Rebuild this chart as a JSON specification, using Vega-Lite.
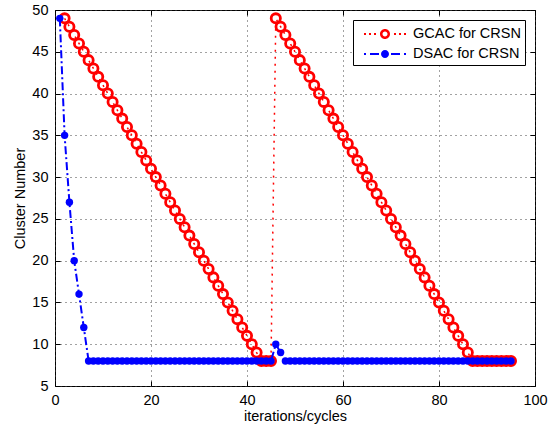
{
  "$schema": "https://vega.github.io/schema/vega-lite/v6.json",
  "autosize": {"type": "none"},
  "padding": {"left": 55, "top": 10, "right": 18, "bottom": 40},
  "width": 480,
  "height": 376,
  "background": "white",
  "config": {
    "font": "Liberation Sans",
    "view": {"stroke": "#000", "strokeWidth": 1},
    "axis": {
      "domain": false,
      "labelFont": "Liberation Sans",
      "titleFont": "Liberation Sans",
      "labelFontSize": 14.5,
      "titleFontSize": 14.5,
      "titleFontWeight": "normal",
      "labelColor": "#000",
      "titleColor": "#000",
      "labelFlush": false,
      "labelOverlap": false,
      "labelBound": false,
      "tickColor": "#000",
      "tickSize": -5,
      "tickWidth": 1,
      "gridColor": "#444",
      "gridDash": [1, 4],
      "gridWidth": 1
    }
  },
  "datasets": {
    "gcac": [
      {"x": 2, "y": 49}, {"x": 3, "y": 48}, {"x": 4, "y": 47}, {"x": 5, "y": 46}, {"x": 6, "y": 45},
      {"x": 7, "y": 44}, {"x": 8, "y": 43}, {"x": 9, "y": 42}, {"x": 10, "y": 41}, {"x": 11, "y": 40},
      {"x": 12, "y": 39}, {"x": 13, "y": 38}, {"x": 14, "y": 37}, {"x": 15, "y": 36}, {"x": 16, "y": 35},
      {"x": 17, "y": 34}, {"x": 18, "y": 33}, {"x": 19, "y": 32}, {"x": 20, "y": 31}, {"x": 21, "y": 30},
      {"x": 22, "y": 29}, {"x": 23, "y": 28}, {"x": 24, "y": 27}, {"x": 25, "y": 26}, {"x": 26, "y": 25},
      {"x": 27, "y": 24}, {"x": 28, "y": 23}, {"x": 29, "y": 22}, {"x": 30, "y": 21}, {"x": 31, "y": 20},
      {"x": 32, "y": 19}, {"x": 33, "y": 18}, {"x": 34, "y": 17}, {"x": 35, "y": 16}, {"x": 36, "y": 15},
      {"x": 37, "y": 14}, {"x": 38, "y": 13}, {"x": 39, "y": 12}, {"x": 40, "y": 11}, {"x": 41, "y": 10},
      {"x": 42, "y": 9}, {"x": 43, "y": 8}, {"x": 44, "y": 8}, {"x": 45, "y": 8},
      {"x": 46, "y": 49}, {"x": 47, "y": 48}, {"x": 48, "y": 47}, {"x": 49, "y": 46}, {"x": 50, "y": 45},
      {"x": 51, "y": 44}, {"x": 52, "y": 43}, {"x": 53, "y": 42}, {"x": 54, "y": 41}, {"x": 55, "y": 40},
      {"x": 56, "y": 39}, {"x": 57, "y": 38}, {"x": 58, "y": 37}, {"x": 59, "y": 36}, {"x": 60, "y": 35},
      {"x": 61, "y": 34}, {"x": 62, "y": 33}, {"x": 63, "y": 32}, {"x": 64, "y": 31}, {"x": 65, "y": 30},
      {"x": 66, "y": 29}, {"x": 67, "y": 28}, {"x": 68, "y": 27}, {"x": 69, "y": 26}, {"x": 70, "y": 25},
      {"x": 71, "y": 24}, {"x": 72, "y": 23}, {"x": 73, "y": 22}, {"x": 74, "y": 21}, {"x": 75, "y": 20},
      {"x": 76, "y": 19}, {"x": 77, "y": 18}, {"x": 78, "y": 17}, {"x": 79, "y": 16}, {"x": 80, "y": 15},
      {"x": 81, "y": 14}, {"x": 82, "y": 13}, {"x": 83, "y": 12}, {"x": 84, "y": 11}, {"x": 85, "y": 10},
      {"x": 86, "y": 9}, {"x": 87, "y": 8}, {"x": 88, "y": 8}, {"x": 89, "y": 8}, {"x": 90, "y": 8},
      {"x": 91, "y": 8}, {"x": 92, "y": 8}, {"x": 93, "y": 8}, {"x": 94, "y": 8}, {"x": 95, "y": 8}
    ],
    "dsac": [
      {"x": 1, "y": 49}, {"x": 2, "y": 35}, {"x": 3, "y": 27}, {"x": 4, "y": 20}, {"x": 5, "y": 16},
      {"x": 6, "y": 12}, {"x": 7, "y": 8}, {"x": 8, "y": 8}, {"x": 9, "y": 8}, {"x": 10, "y": 8},
      {"x": 11, "y": 8}, {"x": 12, "y": 8}, {"x": 13, "y": 8}, {"x": 14, "y": 8}, {"x": 15, "y": 8},
      {"x": 16, "y": 8}, {"x": 17, "y": 8}, {"x": 18, "y": 8}, {"x": 19, "y": 8}, {"x": 20, "y": 8},
      {"x": 21, "y": 8}, {"x": 22, "y": 8}, {"x": 23, "y": 8}, {"x": 24, "y": 8}, {"x": 25, "y": 8},
      {"x": 26, "y": 8}, {"x": 27, "y": 8}, {"x": 28, "y": 8}, {"x": 29, "y": 8}, {"x": 30, "y": 8},
      {"x": 31, "y": 8}, {"x": 32, "y": 8}, {"x": 33, "y": 8}, {"x": 34, "y": 8}, {"x": 35, "y": 8},
      {"x": 36, "y": 8}, {"x": 37, "y": 8}, {"x": 38, "y": 8}, {"x": 39, "y": 8}, {"x": 40, "y": 8},
      {"x": 41, "y": 8}, {"x": 42, "y": 8}, {"x": 43, "y": 8}, {"x": 44, "y": 8}, {"x": 45, "y": 8},
      {"x": 46, "y": 10}, {"x": 47, "y": 9}, {"x": 48, "y": 8}, {"x": 49, "y": 8}, {"x": 50, "y": 8},
      {"x": 51, "y": 8}, {"x": 52, "y": 8}, {"x": 53, "y": 8}, {"x": 54, "y": 8}, {"x": 55, "y": 8},
      {"x": 56, "y": 8}, {"x": 57, "y": 8}, {"x": 58, "y": 8}, {"x": 59, "y": 8}, {"x": 60, "y": 8},
      {"x": 61, "y": 8}, {"x": 62, "y": 8}, {"x": 63, "y": 8}, {"x": 64, "y": 8}, {"x": 65, "y": 8},
      {"x": 66, "y": 8}, {"x": 67, "y": 8}, {"x": 68, "y": 8}, {"x": 69, "y": 8}, {"x": 70, "y": 8},
      {"x": 71, "y": 8}, {"x": 72, "y": 8}, {"x": 73, "y": 8}, {"x": 74, "y": 8}, {"x": 75, "y": 8},
      {"x": 76, "y": 8}, {"x": 77, "y": 8}, {"x": 78, "y": 8}, {"x": 79, "y": 8}, {"x": 80, "y": 8},
      {"x": 81, "y": 8}, {"x": 82, "y": 8}, {"x": 83, "y": 8}, {"x": 84, "y": 8}, {"x": 85, "y": 8},
      {"x": 86, "y": 8}, {"x": 87, "y": 8}, {"x": 88, "y": 8}, {"x": 89, "y": 8}, {"x": 90, "y": 8},
      {"x": 91, "y": 8}, {"x": 92, "y": 8}, {"x": 93, "y": 8}, {"x": 94, "y": 8}, {"x": 95, "y": 8}
    ]
  },
  "resolve": {"axis": {"x": "independent", "y": "independent"}},
  "layer": [
    {
      "data": {"name": "gcac"},
      "mark": {"type": "line", "strokeDash": [2, 5], "strokeWidth": 1.5},
      "encoding": {
        "x": {"field": "x", "type": "quantitative", "scale": {"domain": [0, 100], "nice": false, "zero": false},
          "axis": {"orient": "bottom", "values": [0, 20, 40, 60, 80, 100], "title": "iterations/cycles", "labelPadding": 12, "titlePadding": 3, "grid": true}},
        "y": {"field": "y", "type": "quantitative", "scale": {"domain": [5, 50], "nice": false, "zero": false},
          "axis": {"orient": "left", "values": [5, 10, 15, 20, 25, 30, 35, 40, 45, 50], "title": "Cluster Number", "labelPadding": 12, "titlePadding": 4, "grid": true}},
        "color": {"datum": "GCAC for CRSN", "type": "nominal",
          "scale": {"domain": ["GCAC for CRSN", "DSAC for CRSN"], "range": ["#ff0000", "#0000ff"]},
          "legend": {
            "title": null,
            "orient": "none",
            "legendX": 298,
            "legendY": 10,
            "padding": 4,
            "rowPadding": 3,
            "strokeColor": "#000",
            "fillColor": "#fff",
            "symbolSize": 400,
            "labelOffset": 36,
            "labelFont": "Liberation Sans",
            "labelFontSize": 14.5,
            "labelColor": "#000",
            "encode": {
              "symbols": {
                "update": {
                  "size": {"value": 400},
                  "shape": {"signal": "datum.value === 'GCAC for CRSN' ? 'M-0.3,-0.1h0.2v0.2h-0.2ZM0.2,-0.1h0.2v0.2h-0.2ZM0.7,-0.1h0.2v0.2h-0.2ZM2.7,-0.1h0.2v0.2h-0.2ZM3.2,-0.1h0.2v0.2h-0.2ZM3.7,-0.1h0.2v0.2h-0.2ZM1.3,0A0.5,0.5,0,1,1,2.3,0A0.5,0.5,0,1,1,1.3,0ZM1.55,0A0.25,0.25,0,1,0,2.05,0A0.25,0.25,0,1,0,1.55,0Z' : 'M-0.3,-0.1h0.2v0.2h-0.2ZM0.3,-0.1H1.2V0.1H0.3ZM2.4,-0.1H3.3V0.1H2.4ZM3.7,-0.1h0.2v0.2h-0.2ZM1.4,0A0.4,0.4,0,1,1,2.2,0A0.4,0.4,0,1,1,1.4,0Z'"},
                  "strokeWidth": {"value": 0},
                  "strokeDash": {"value": []},
                  "opacity": {"value": 1}
                }
              }
            }
          }}
      }
    },
    {
      "data": {"name": "gcac"},
      "mark": {"type": "point", "filled": false, "size": 85, "strokeWidth": 2.8, "opacity": 1},
      "encoding": {
        "x": {"field": "x", "type": "quantitative", "scale": {"domain": [0, 100], "nice": false, "zero": false},
          "axis": {"orient": "top", "values": [0, 20, 40, 60, 80, 100], "labels": false, "title": null, "grid": false}},
        "y": {"field": "y", "type": "quantitative", "scale": {"domain": [5, 50], "nice": false, "zero": false},
          "axis": {"orient": "right", "values": [5, 10, 15, 20, 25, 30, 35, 40, 45, 50], "labels": false, "title": null, "grid": false}},
        "color": {"datum": "GCAC for CRSN", "type": "nominal"}
      }
    },
    {
      "data": {"name": "dsac"},
      "mark": {"type": "line", "strokeDash": [8, 3, 2, 3], "strokeWidth": 2},
      "encoding": {
        "x": {"field": "x", "type": "quantitative", "scale": {"domain": [0, 100], "nice": false, "zero": false}, "axis": null},
        "y": {"field": "y", "type": "quantitative", "scale": {"domain": [5, 50], "nice": false, "zero": false}, "axis": null},
        "color": {"datum": "DSAC for CRSN", "type": "nominal"}
      }
    },
    {
      "data": {"name": "dsac"},
      "mark": {"type": "point", "filled": true, "size": 55, "opacity": 1},
      "encoding": {
        "x": {"field": "x", "type": "quantitative", "scale": {"domain": [0, 100], "nice": false, "zero": false}, "axis": null},
        "y": {"field": "y", "type": "quantitative", "scale": {"domain": [5, 50], "nice": false, "zero": false}, "axis": null},
        "color": {"datum": "DSAC for CRSN", "type": "nominal"}
      }
    }
  ]
}
